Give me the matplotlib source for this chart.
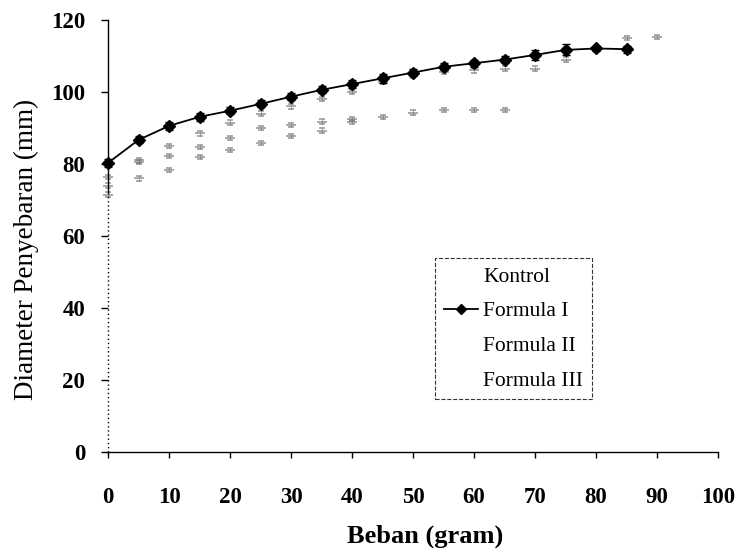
import matplotlib
matplotlib.use("Agg")
import matplotlib.pyplot as plt
from matplotlib.lines import Line2D

# ---- data ----
beban_f1 = [0, 5, 10, 15, 20, 25, 30, 35, 40, 45, 50, 55, 60, 65, 70, 75, 80, 85]
formula1 = [80.3, 86.7, 90.6, 93.1, 94.8, 96.7, 98.7, 100.6, 102.2, 103.8,
            105.4, 107.0, 108.0, 109.0, 110.3, 111.7, 112.1, 111.9]
formula1_err = [1.0, 1.0, 1.2, 1.2, 1.0, 1.0, 1.0, 1.0, 1.2, 1.2,
                1.0, 1.0, 1.0, 1.0, 1.5, 1.5, 0.8, 1.0]

beban_f2 = [0, 5, 10, 15, 20, 25, 30, 35, 40, 45, 50, 55, 60, 65, 70, 75, 80, 85, 90]
formula2 = [76.4, 81.0, 85.0, 88.5, 91.5, 94.0, 96.0, 98.0, 100.0, 102.8,
            104.6, 105.5, 106.0, 106.5, 106.5, 109.0, 112.0, 115.0, 115.3]

beban_f3 = [0, 5, 10, 15, 20, 25, 30, 35, 40]
formula3 = [74.0, 80.6, 82.2, 84.7, 87.2, 90.0, 90.8, 91.8, 92.5]

beban_k = [0, 5, 10, 15, 20, 25, 30, 35, 40, 45, 50, 55, 60, 65]
kontrol = [71.5, 76.0, 78.3, 82.0, 83.9, 85.8, 87.8, 89.3, 91.6, 93.1, 94.3, 95.0, 95.0, 95.0]

series_labels = ['Kontrol', 'Formula I', 'Formula II', 'Formula III']
xticks = [0, 10, 20, 30, 40, 50, 60, 70, 80, 90, 100]
yticks = [0, 20, 40, 60, 80, 100, 120]

serif = ["Liberation Serif", "DejaVu Serif"]
plt.rcParams['font.family'] = serif

fig = plt.figure(figsize=(7.42, 5.53), dpi=100)
ax = fig.add_axes([0.1456, 0.1826, 0.8221, 0.7812])

faint = dict(color='0.45', marker='_', ms=7, mew=1.3, linestyle='none',
             elinewidth=0.7, capsize=2, alpha=0.65, clip_on=False)

ax.errorbar(beban_k, kontrol, yerr=0.6, **faint)
f1 = ax.errorbar(beban_f1, formula1, yerr=formula1_err, color='black', marker='D',
                 ms=6, lw=1.3, elinewidth=1.2, capsize=3,
                 clip_on=False, zorder=5)
ax.errorbar(beban_f2, formula2, yerr=0.6, **faint)
ax.errorbar(beban_f3, formula3, yerr=0.6, **faint)

ax.set_xlim(0, 100)
ax.set_ylim(0, 120)
ax.set_xticks(xticks)
ax.set_yticks(yticks)

for s in ['top', 'right']:
    ax.spines[s].set_visible(False)
ax.spines['left'].set_bounds(72, 120)
ax.vlines(0, 0, 72, colors='black', linestyles=(0, (1, 2)), lw=1.0, clip_on=False)
ax.spines['left'].set_linewidth(1.0)
ax.spines['bottom'].set_linewidth(1.0)

ax.tick_params(axis='y', direction='out', length=5, width=1.0, pad=11.5)
ax.tick_params(axis='x', direction='out', length=4, width=1.0, pad=21)
for lab in ax.get_xticklabels() + ax.get_yticklabels():
    lab.set_fontsize(16.5)
    lab.set_fontweight('bold')

ax.set_ylabel('Diameter Penyebaran (mm)', fontsize=19.5)
ax.yaxis.set_label_coords(-0.113, 0.468)
ax.set_xlabel('Beban (gram)', fontsize=19, fontweight='bold')
ax.xaxis.set_label_coords(0.52, -0.168)

blank = Line2D([], [], linestyle='none')
handles = [blank, Line2D([], [], color='black', marker='D', ms=5, lw=1.3), blank, blank]
leg = ax.legend(handles, series_labels, loc='upper left', bbox_to_anchor=(0.536, 0.449),
                fontsize=15.5, frameon=True, fancybox=False, borderpad=0.4,
                labelspacing=0.68, handlelength=1.6, handletextpad=0.25,
                borderaxespad=0)
leg.get_frame().set_edgecolor('black')
leg.get_frame().set_linewidth(0.8)
leg.get_frame().set_linestyle('--')

fig.savefig('out.png', dpi=100)
